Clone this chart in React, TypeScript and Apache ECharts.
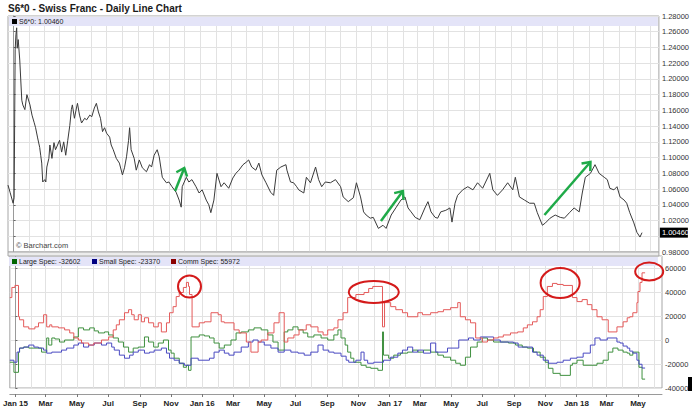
import React, { useEffect, useRef } from "react";
import * as echarts from "echarts";

const TITLE = "S6*0 - Swiss Franc - Daily Line Chart";
const SYMBOL = "S6*0";
const COPYRIGHT = "\u00a9 Barchart.com";

// x = calendar days counted from 1 Jan 2015
const price: [number, number][] = [
  [-11, 1.065], [-7, 1.056], [-1, 1.042], [1, 1.049], [3, 1.237], [4.5, 1.256], [6, 1.265], [7, 1.239], [9, 1.25], [12, 1.224],
  [16, 1.173], [18, 1.167], [22, 1.161], [26, 1.18], [32, 1.167], [36, 1.154], [40, 1.145], [43, 1.138], [47, 1.125], [51, 1.113],
  [53, 1.103], [55, 1.093], [57, 1.069], [61, 1.072], [63, 1.069], [65, 1.088], [69, 1.099], [71, 1.116], [75, 1.099], [79, 1.119],
  [82, 1.11], [86, 1.116], [90, 1.122], [94, 1.107], [98, 1.12], [102, 1.103], [106, 1.122], [110, 1.141], [113, 1.161], [115, 1.167],
  [119, 1.15], [123, 1.163], [125, 1.169], [129, 1.154], [133, 1.144], [139, 1.15], [143, 1.148], [149, 1.154], [153, 1.152], [158, 1.163],
  [162, 1.169], [166, 1.158], [170, 1.15], [174, 1.133], [178, 1.138], [182, 1.131], [188, 1.126], [191, 1.116], [195, 1.11], [201, 1.099],
  [207, 1.093], [213, 1.078], [217, 1.087], [221, 1.101], [225, 1.122], [227, 1.138], [230, 1.11], [236, 1.099], [240, 1.084], [246, 1.097],
  [252, 1.087], [260, 1.082], [266, 1.091], [270, 1.088], [275, 1.103], [281, 1.11], [285, 1.101], [291, 1.075], [299, 1.068], [304, 1.069],
  [310, 1.063], [318, 1.056], [324, 1.046], [328, 1.037], [330, 1.063], [338, 1.075], [343, 1.069], [349, 1.072], [357, 1.063], [363, 1.055],
  [369, 1.059], [377, 1.046], [382, 1.04], [386, 1.03], [392, 1.046], [398, 1.08], [406, 1.063], [412, 1.068], [421, 1.061], [429, 1.074],
  [435, 1.08], [441, 1.084], [449, 1.091], [455, 1.094], [460, 1.097], [466, 1.088], [474, 1.084], [480, 1.093], [486, 1.078], [494, 1.068],
  [503, 1.056], [509, 1.052], [515, 1.084], [523, 1.088], [533, 1.091], [535, 1.084], [542, 1.069], [548, 1.068], [554, 1.063], [558, 1.059],
  [568, 1.055], [573, 1.075], [581, 1.068], [591, 1.088], [597, 1.072], [603, 1.063], [610, 1.069], [620, 1.068], [630, 1.072], [640, 1.063],
  [645, 1.05], [655, 1.044], [665, 1.049], [671, 1.068], [679, 1.05], [685, 1.031], [690, 1.027], [698, 1.023], [704, 1.024], [714, 1.01],
  [723, 1.014], [729, 1.01], [739, 1.027], [749, 1.037], [758, 1.046], [766, 1.05], [772, 1.036], [778, 1.031], [786, 1.024], [795, 1.021],
  [805, 1.036], [811, 1.044], [817, 1.031], [825, 1.024], [830, 1.023], [836, 1.031], [846, 1.033], [854, 1.036], [858, 1.018], [864, 1.042],
  [869, 1.052], [879, 1.059], [889, 1.063], [899, 1.059], [908, 1.068], [918, 1.061], [932, 1.08], [938, 1.059], [947, 1.052], [957, 1.059],
  [967, 1.068], [977, 1.059], [982, 1.075], [990, 1.05], [1000, 1.046], [1010, 1.042], [1019, 1.042], [1025, 1.03], [1035, 1.014], [1041, 1.017],
  [1050, 1.023], [1060, 1.027], [1070, 1.024], [1078, 1.023], [1088, 1.03], [1097, 1.036], [1107, 1.031], [1113, 1.055], [1119, 1.075], [1129, 1.08],
  [1138, 1.091], [1146, 1.08], [1156, 1.075], [1162, 1.072], [1167, 1.061], [1175, 1.059], [1181, 1.063], [1187, 1.05], [1195, 1.046], [1200, 1.042],
  [1206, 1.03], [1214, 1.017], [1220, 1.005], [1226, 0.999], [1230, 1.0046],
];

const largeSpec: [number, number][] = [
  [-11, -18520], [-3, -26940], [6, -10100], [8, -6740], [16, -5890], [26, -6740], [51, -10100], [61, 1680], [65, -4210], [71, 1680],
  [77, 840], [86, -1680], [96, 0], [114, 2530], [123, 10100], [133, 8420], [145, 10100], [154, 7580], [162, 5890], [174, 6740],
  [182, 4210], [191, 1680], [201, -1680], [211, -5890], [221, -10100], [230, -6740], [240, -5890], [252, 2530], [260, -1680], [270, -5890],
  [279, -2530], [289, 0], [299, -8420], [304, -10950], [310, -15160], [320, -19370], [328, -22730], [334, -21050], [338, -25260], [343, 2530],
  [359, 4210], [369, 3370], [379, 1680], [388, -2530], [398, -6740], [408, -4210], [421, 0], [431, 5890], [441, 6740], [455, 8420],
  [466, 10100], [480, 8420], [493, 4210], [503, -1680], [513, -8420], [525, 6740], [532, 8420], [542, 10950], [552, 8420], [562, 5890],
  [571, 2530], [583, 4210], [597, 1680], [610, 0], [622, 4210], [630, 8420], [636, 1680], [644, -4210], [649, -10100], [655, -15160],
  [661, -18520], [675, -21050], [685, -22730], [694, -23580], [708, -25260], [717, 6740], [719, -12630], [729, -15160], [739, -12630], [752, -10950],
  [766, -10100], [776, -8420], [786, -10100], [797, -8420], [811, -10100], [825, -12630], [836, -14310], [850, -16840], [860, -19370], [869, -21050],
  [879, -14310], [889, -5890], [902, -1680], [912, 1680], [922, 0], [934, -1680], [963, -2530], [977, -4210], [990, -5890], [1000, -6740],
  [1012, -10100], [1025, -14310], [1035, -18520], [1041, -23580], [1050, -27790], [1064, -29470], [1084, -21050], [1088, -19370], [1097, -16840], [1109, -21050],
  [1136, -19370], [1148, -16840], [1158, -10100], [1167, -6740], [1177, -8420], [1187, -10100], [1195, -10950], [1200, -12630], [1206, -10100], [1218, -22730],
  [1224, -32602], [1230, -32602],
];

const smallSpec: [number, number][] = [
  [-11, -16840], [-3, -18520], [3, -10100], [8, -6740], [16, -5890], [26, -4210], [36, -5890], [45, -6740], [55, -8420], [61, -10950],
  [71, -10100], [90, -8420], [100, -6740], [114, -4210], [123, -2530], [133, -5890], [143, -4210], [154, -2530], [168, -4210], [178, -2530],
  [188, -5890], [193, -8420], [203, -12630], [213, -15160], [223, -12630], [230, -10100], [240, -8420], [252, -10950], [262, -10100], [271, -8420],
  [285, -6740], [295, -10950], [301, -15160], [310, -16840], [320, -19370], [330, -21050], [343, -15160], [357, -16840], [379, -15160], [388, -10100],
  [398, -8420], [408, -10950], [417, -12630], [427, -10100], [441, -5890], [455, -1680], [464, 0], [474, -1680], [486, -4210], [499, -6740],
  [513, -10100], [525, -8420], [538, -10100], [552, -10950], [564, -12630], [577, -10100], [591, -4210], [601, -8420], [612, -10100], [622, -10950],
  [636, -13470], [646, -16840], [651, -18520], [665, -16840], [675, -10100], [681, -16840], [688, -19370], [700, -18520], [719, -16840], [733, -14310],
  [747, -10950], [756, -8420], [766, -5890], [776, -10100], [786, -8420], [797, -10950], [811, -2530], [821, -10100], [844, -6740], [866, 0],
  [885, 1680], [895, 0], [908, 2530], [934, 0], [947, -1680], [973, -2530], [982, -5890], [1010, -10100], [1019, -12630], [1031, -16840],
  [1041, -19370], [1058, -18520], [1070, -16840], [1084, -15160], [1097, -14310], [1109, -10950], [1123, -4210], [1132, 1680], [1142, 0], [1156, 1680],
  [1175, -1680], [1181, -2530], [1187, -5050], [1195, -6740], [1200, -9260], [1206, -10950], [1214, -16840], [1218, -20210], [1224, -23370], [1230, -23370],
];

const commSpec: [number, number][] = [
  [-11, 35360], [-7, 43780], [-1, 45470], [6, 19370], [8, 16840], [16, 10950], [26, 9260], [38, 10950], [45, 14310], [55, 21050],
  [61, 10950], [67, 12630], [71, 10950], [84, 10100], [96, 8420], [106, 5890], [114, 1680], [123, 0], [129, -2530], [143, -4210],
  [153, -2530], [168, 0], [182, 2530], [191, 8420], [197, 12630], [203, 16840], [213, 22730], [221, 25260], [227, 21050], [232, 16840],
  [240, 21050], [246, 15160], [252, 18520], [260, 14310], [270, 10950], [279, 14310], [285, 6740], [295, 14310], [301, 22730], [308, 27790],
  [314, 36200], [320, 39570], [328, 43780], [334, 48000], [338, 44630], [340, 37890], [345, 10950], [359, 14310], [369, 15160], [382, 22730],
  [396, 21050], [402, 15160], [408, 14310], [427, 8420], [437, 5890], [451, -1680], [460, -10100], [474, -1680], [480, 0], [493, 5890],
  [505, 14310], [515, 22730], [525, -1680], [532, 1680], [544, 4210], [554, 8420], [568, 12630], [577, 10950], [591, 6740], [601, 4210],
  [610, 8420], [622, 10100], [630, 16840], [640, 22730], [649, 35360], [665, 37890], [681, 39570], [690, 42940], [698, 44630], [717, 10950],
  [721, 31150], [733, 27790], [743, 25260], [756, 22730], [766, 19370], [786, 22730], [795, 21050], [811, 22730], [825, 23580], [836, 25260],
  [850, 26940], [864, 31150], [869, 19370], [879, 16840], [889, 14310], [899, 1680], [912, -1680], [922, 0], [934, 1680], [943, 2530],
  [953, 4210], [967, 5890], [981, 6740], [992, 10100], [1000, 12630], [1010, 15160], [1019, 19370], [1025, 25260], [1031, 36200], [1039, 44630],
  [1049, 47150], [1058, 46300], [1070, 45470], [1088, 35360], [1097, 32000], [1107, 33680], [1117, 29470], [1126, 25260], [1136, 19370], [1146, 16840],
  [1158, 6740], [1175, 10950], [1187, 15160], [1195, 18520], [1200, 19370], [1206, 22730], [1214, 31150], [1216, 40400], [1220, 48000], [1224, 55972],
  [1230, 55972],
];

const PRICE_MIN = 0.98;
const PRICE_MAX = 1.28;
const PRICE_STEP = 0.02;
const COT_MIN = -40000;
const COT_MAX = 70000;
const COT_STEP = 20000;
const X_MIN = -11;
const X_MAX = 1263;
const MONTHS = ["Jan", "Feb", "Mar", "Apr", "May", "Jun", "Jul", "Aug", "Sep", "Oct", "Nov", "Dec"];

// annotation anchors in data units
const arrows: [number, number, number, number][] = [
  [316, 1.0575, 334, 1.0868],
  [719, 1.0194, 762, 1.0575],
  [1039, 1.027, 1129, 1.0944],
];
const circles: [number, number, number, number][] = [
  [340, 44500, 11.5, 11],
  [700, 40000, 25, 11],
  [1064, 47500, 19.5, 15],
  [1238, 57000, 14, 9],
];

const DAY0 = Date.UTC(2015, 0, 1);
const MS_DAY = 86400000;
const FONT = '"Liberation Sans", Arial, sans-serif';

const monthTicks: number[] = [];
for (let m = 0; m < 42; m++) monthTicks.push(Math.round((Date.UTC(2015, m, 1) - DAY0) / MS_DAY));
const labelTicks = monthTicks.filter((_, i) => i % 2 === 0);

function fmtX(v: number): string {
  const d = new Date(DAY0 + (Math.round(v) + 0.5) * MS_DAY);
  const m = d.getUTCMonth();
  return m === 0 ? `Jan ${String(d.getUTCFullYear()).slice(2)}` : MONTHS[m];
}

const gridLine = { show: true, lineStyle: { color: "#e2e2e2", width: 1 } };

export default function App() {
  const ref = useRef<HTMLDivElement>(null);
  useEffect(() => {
    if (!ref.current) return;
    const chart = echarts.init(ref.current, undefined, { renderer: "svg" });
    const last = price[price.length - 1][1];
    const hiddenX = (gridIndex: number, position: string) => ({
      type: "value",
      gridIndex,
      position,
      min: X_MIN,
      max: X_MAX,
      axisLine: { show: false },
      axisTick: { show: false, customValues: monthTicks },
      axisLabel: { show: false, customValues: monthTicks },
      splitLine: gridLine,
    });
    const option: any = {
      animation: false,
      backgroundColor: "#ffffff",
      grid: [
        { left: 8, right: 30, top: 16, height: 236, show: true, borderColor: "#a6a6a6", borderWidth: 1, backgroundColor: "#fff" },
        { left: 8, right: 30, top: 256, height: 132, show: true, borderColor: "#a6a6a6", borderWidth: 1, backgroundColor: "#fff" },
      ],
      xAxis: [
        hiddenX(0, "bottom"),
        hiddenX(1, "top"),
        {
          type: "value",
          gridIndex: 1,
          position: "bottom",
          offset: 6,
          min: X_MIN,
          max: X_MAX,
          axisLine: { show: true, lineStyle: { color: "#9a9a9a" } },
          axisTick: { show: true, length: 3, customValues: labelTicks, lineStyle: { color: "#777" } },
          axisLabel: {
            customValues: labelTicks,
            formatter: fmtX,
            fontSize: 8,
            fontWeight: "bold",
            fontFamily: FONT,
            color: "#222",
            margin: 5,
          },
          splitLine: { show: false },
        },
      ],
      yAxis: [
        {
          type: "value",
          gridIndex: 0,
          position: "right",
          min: PRICE_MIN,
          max: PRICE_MAX,
          interval: PRICE_STEP,
          axisLine: { show: true, lineStyle: { color: "#9a9a9a" } },
          axisTick: { show: true, length: 2, lineStyle: { color: "#666" } },
          axisLabel: {
            // the current-price box covers the tick label nearest to it
            formatter: (v: number) => (Math.abs(v - last) < PRICE_STEP * 0.4 ? "" : v.toFixed(5)),
            fontSize: 7.5,
            fontFamily: FONT,
            color: "#333",
            margin: 3,
          },
          splitLine: gridLine,
        },
        {
          type: "value",
          gridIndex: 1,
          position: "right",
          min: COT_MIN,
          max: COT_MAX,
          interval: COT_STEP,
          axisLine: { show: true, lineStyle: { color: "#9a9a9a" } },
          axisTick: { show: true, length: 2, lineStyle: { color: "#666" } },
          axisLabel: { showMaxLabel: false, formatter: (v: number) => String(v), fontSize: 7.5, fontFamily: FONT, color: "#333", margin: 3 },
          splitLine: gridLine,
        },
      ],
      series: [
        {
          type: "line",
          xAxisIndex: 0,
          yAxisIndex: 0,
          data: price,
          showSymbol: false,
          lineStyle: { color: "#3a3a3a", width: 1 },
        },
        {
          type: "line",
          name: "Large Spec",
          xAxisIndex: 2,
          yAxisIndex: 1,
          data: largeSpec,
          step: "end",
          showSymbol: false,
          lineStyle: { color: "#3f903f", width: 1 },
        },
        {
          type: "line",
          name: "Small Spec",
          xAxisIndex: 2,
          yAxisIndex: 1,
          data: smallSpec,
          step: "end",
          showSymbol: false,
          lineStyle: { color: "#4a4ac2", width: 1 },
        },
        {
          type: "line",
          name: "Comm Spec",
          xAxisIndex: 2,
          yAxisIndex: 1,
          data: commSpec,
          step: "end",
          showSymbol: false,
          lineStyle: { color: "#e45a5a", width: 1 },
        },
      ],
    };
    chart.setOption(option);

    const toPx = (g: number, d: number, v: number) => chart.convertToPixel({ gridIndex: g } as any, [d, v]) as number[];
    const p0 = toPx(0, X_MIN, PRICE_MAX);
    const p1 = toPx(0, X_MAX, PRICE_MIN);
    const c0 = toPx(1, X_MIN, COT_MAX);
    const left = p0[0];
    const width = p1[0] - p0[0];
    const lastY = toPx(0, X_MAX, last)[1];

    const els: any[] = [];
    els.push({ type: "text", z: 20, x: 8, y: 8, style: { text: TITLE, font: `bold 10px "Liberation Sans Narrow", ${FONT}`, fill: "#1a1a1a", verticalAlign: "middle" } });
    els.push({ type: "rect", z: 10, shape: { x: left + 1, y: p0[1] + 1, width: width - 2, height: 9 }, style: { fill: "#e4e4f8" } });
    els.push({ type: "rect", z: 11, shape: { x: left + 4, y: p0[1] + 3, width: 5, height: 5 }, style: { fill: "#000" } });
    els.push({ type: "text", z: 11, x: left + 11, y: p0[1] + 5.5, style: { text: `${SYMBOL}: ${last.toFixed(5)}`, font: `7px ${FONT}`, fill: "#222", verticalAlign: "middle" } });
    els.push({ type: "text", z: 11, x: left + 8, y: p1[1] - 7, style: { text: COPYRIGHT, font: `7.5px ${FONT}`, fill: "#444", verticalAlign: "middle" } });
    els.push({ type: "rect", z: 11, shape: { x: left, y: p1[1], width, height: c0[1] - p1[1] }, style: { fill: "#ececec", stroke: "#a6a6a6", lineWidth: 1 } });
    els.push({ type: "rect", z: 10, shape: { x: left + 1, y: c0[1] + 1, width: width - 2, height: 9 }, style: { fill: "#e4e4f8" } });
    const legend = [
      { name: "Large Spec", data: largeSpec, color: "#006400" },
      { name: "Small Spec", data: smallSpec, color: "#000080" },
      { name: "Comm Spec", data: commSpec, color: "#8b0000" },
    ];
    const legendX = [left + 4, left + 84, left + 163];
    legend.forEach((l, i) => {
      els.push({ type: "rect", z: 11, shape: { x: legendX[i], y: c0[1] + 3, width: 5, height: 5 }, style: { fill: l.color } });
      els.push({ type: "text", z: 11, x: legendX[i] + 7, y: c0[1] + 5.5, style: { text: `${l.name}: ${l.data[l.data.length - 1][1]}`, font: `7px ${FONT}`, fill: "#222", verticalAlign: "middle" } });
    });
    // current price box
    els.push({ type: "rect", z: 12, shape: { x: left + width + 1, y: lastY - 5, width: 28, height: 10 }, style: { fill: "#000" } });
    els.push({ type: "text", z: 13, x: left + width + 3, y: lastY, style: { text: last.toFixed(5), font: `7.5px ${FONT}`, fill: "#fff", verticalAlign: "middle" } });
    // black mark at bottom right
    els.push({ type: "rect", z: 12, shape: { x: 688, y: 377, width: 4, height: 14 }, style: { fill: "#000" } });

    arrows.forEach(([d1, v1, d2, v2]) => {
      const a = toPx(0, d1, v1);
      const b = toPx(0, d2, v2);
      const ang = Math.atan2(a[1] - b[1], a[0] - b[0]);
      const len = 9;
      const spread = 0.7;
      els.push({ type: "line", z: 15, shape: { x1: a[0], y1: a[1], x2: b[0], y2: b[1] }, style: { stroke: "#1faa48", lineWidth: 2.5 } });
      els.push({
        type: "polyline",
        z: 15,
        shape: {
          points: [
            [b[0] + len * Math.cos(ang + spread), b[1] + len * Math.sin(ang + spread)],
            [b[0], b[1]],
            [b[0] + len * Math.cos(ang - spread), b[1] + len * Math.sin(ang - spread)],
          ],
        },
        style: { stroke: "#1faa48", lineWidth: 2.5, fill: "none" },
      });
    });
    circles.forEach(([d, v, rx, ry]) => {
      const c = toPx(1, d, v);
      els.push({ type: "ellipse", z: 15, shape: { cx: c[0], cy: c[1], rx, ry }, style: { fill: "none", stroke: "#d41a1a", lineWidth: 2 } });
    });
    chart.setOption({ graphic: { elements: els } });
    return () => chart.dispose();
  }, []);
  return <div ref={ref} style={{ position: "fixed", left: 0, top: 0, width: 692, height: 415, background: "#fff" }} />;
}
